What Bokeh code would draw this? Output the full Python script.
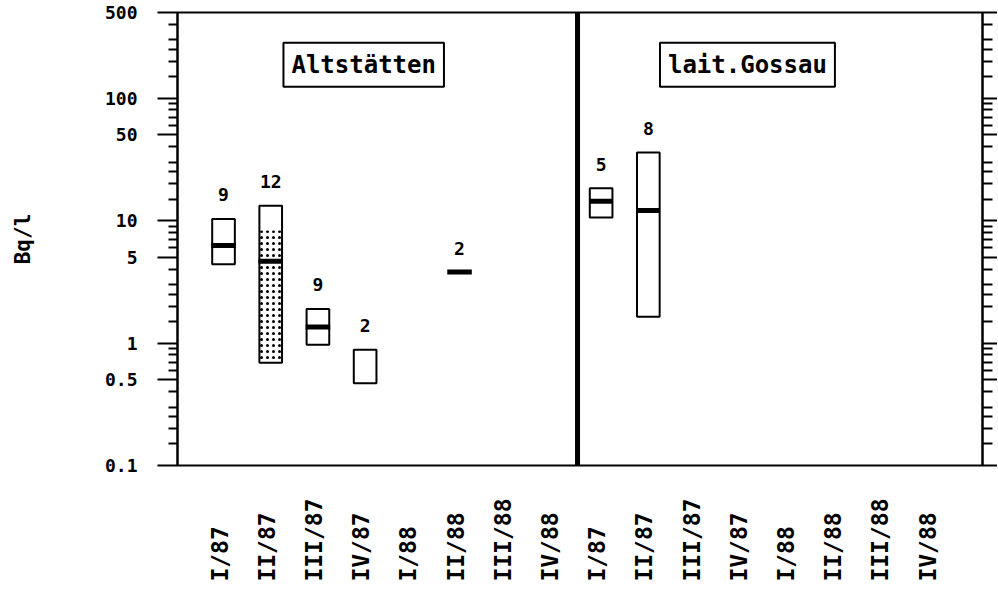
import numpy as np
from bokeh.plotting import figure
from bokeh.core.properties import value
from bokeh.models import (Range1d, FixedTicker, LogAxis, ColumnDataSource,
                          LabelSet, Label, Span)
from bokeh.embed import file_html
from bokeh.resources import INLINE

# ---------------- data ----------------
quarters = ["I/87", "II/87", "III/87", "IV/87", "I/88", "II/88", "III/88", "IV/88"]
panel_titles = ["Altstätten", "lait.Gossau"]

y_ticks = [0.1, 0.5, 1, 5, 10, 50, 100, 500]
y_tick_labels = ["0.1", "0.5", "1", "5", "10", "50", "100", "500"]
minor_mult = [1.5, 2, 2.5, 3, 4, 6, 7, 8, 9]
decades = [0.1, 1, 10, 100]

# Altstätten
alt_quarter = ["I/87", "II/87", "III/87", "IV/87"]
alt_low = [4.4, 0.69, 0.97, 0.47]
alt_high = [10.3, 13.2, 1.9, 0.88]
alt_med_quarter = ["I/87", "II/87", "III/87", "II/88"]
alt_median = [6.25, 4.65, 1.35, 3.8]
alt_n_quarter = ["I/87", "II/87", "III/87", "IV/87", "II/88"]
alt_n_pos = [10.3, 13.2, 1.9, 0.88, 3.8]
alt_n = [9, 12, 9, 2, 2]
alt_shade_quarter = ["II/87"]
alt_shade_low = [0.69]
alt_shade_high = [8.3]

# lait.Gossau
gos_quarter = ["I/87", "II/87"]
gos_low = [10.6, 1.64]
gos_high = [18.4, 36.0]
gos_median = [14.4, 12.1]
gos_n = [5, 8]

FONT = "DejaVu Sans Mono"

def xpos(q, panel):
    return quarters.index(q) + 8 * panel

y_minor = [m * d for d in decades for m in minor_mult if m * d < 500]

p = figure(width=994, height=586, frame_width=805, frame_height=453,
           x_range=Range1d(-0.975, 16.08), y_range=Range1d(0.1, 500),
           y_axis_type="log", x_axis_location="below",
           output_backend="svg", toolbar_location=None,
           min_border_left=177, min_border_top=12, min_border_right=0,
           min_border_bottom=121)
p.grid.visible = False
p.outline_line_color = "black"
p.outline_line_width = 2
p.background_fill_color = "white"
p.border_fill_color = "white"

ax = p.yaxis[0]
ax.ticker = FixedTicker(ticks=y_ticks, minor_ticks=y_minor)
ax.major_label_overrides = dict(zip(y_ticks, y_tick_labels))
ax.major_tick_out = 20
ax.major_tick_in = 0
ax.minor_tick_out = 9
ax.minor_tick_in = 0
ax.major_tick_line_width = 2
ax.minor_tick_line_width = 2
ax.axis_line_width = 2
ax.major_label_standoff = 20
ax.major_label_text_font = FONT
ax.major_label_text_font_style = "bold"
ax.major_label_text_font_size = "18px"
ax.major_label_text_color = "black"
ax.axis_label = "Bq/l"
ax.axis_label_text_font = FONT
ax.axis_label_text_font_style = "bold"
ax.axis_label_text_font_size = "21px"
ax.axis_label_text_color = "black"
ax.axis_label_standoff = 67

rax = LogAxis(ticker=FixedTicker(ticks=y_ticks, minor_ticks=y_minor))
rax.major_label_overrides = {t: "" for t in y_ticks}
rax.major_label_standoff = 0
rax.major_tick_out = 15
rax.major_tick_in = 0
rax.minor_tick_out = 10
rax.minor_tick_in = 0
rax.major_tick_line_width = 2
rax.minor_tick_line_width = 2
rax.axis_line_width = 2
p.add_layout(rax, "right")

# quarter labels on the bottom axis (padded so that all start at the same line)
qlabels = quarters + quarters
width_max = max(len(s) for s in qlabels)
qticks = [i - 0.085 for i in range(len(qlabels))]
xax = p.xaxis[0]
xax.ticker = FixedTicker(ticks=qticks, minor_ticks=[])
xax.major_label_overrides = {t: s + "\u00a0" * (width_max - len(s)) for t, s in zip(qticks, qlabels)}
xax.major_label_orientation = np.pi / 2
xax.axis_line_color = None
xax.major_tick_line_color = None
xax.minor_tick_line_color = None
xax.major_tick_out = 0
xax.major_tick_in = 0
xax.major_label_standoff = 33
xax.major_label_text_font = FONT
xax.major_label_text_font_style = "bold"
xax.major_label_text_font_size = "23px"
xax.major_label_text_color = "black"

# divider between panels
p.add_layout(Span(location=7.5, dimension="height", line_color="black", line_width=5))

half = 0.24

# Altstätten boxes
ax_x = np.array([xpos(q, 0) for q in alt_quarter], dtype=float)
sx = np.array([xpos(q, 0) for q in alt_shade_quarter], dtype=float)
p.quad(left=sx - half, right=sx + half, bottom=alt_shade_low, top=alt_shade_high,
       fill_color="white", line_color=None, hatch_pattern="dot",
       hatch_color="black", hatch_scale=6, hatch_weight=1.6)
p.quad(left=ax_x - half, right=ax_x + half, bottom=alt_low, top=alt_high,
       fill_color=None, line_color="black", line_width=2)
mx = np.array([xpos(q, 0) for q in alt_med_quarter], dtype=float)
p.segment(x0=mx - half - 0.02, x1=mx + half + 0.02, y0=alt_median, y1=alt_median,
          line_color="black", line_width=5, line_cap="butt")

# Gossau boxes
gx = np.array([xpos(q, 1) for q in gos_quarter], dtype=float)
p.quad(left=gx - half, right=gx + half, bottom=gos_low, top=gos_high,
       fill_color=None, line_color="black", line_width=2)
p.segment(x0=gx - half, x1=gx + half, y0=gos_median, y1=gos_median,
          line_color="black", line_width=5, line_cap="butt")

# n labels
nx = [xpos(q, 0) for q in alt_n_quarter] + [xpos(q, 1) for q in gos_quarter]
ny = alt_n_pos + gos_high
nt = [str(v) for v in alt_n + gos_n]
n_src = ColumnDataSource(dict(x=nx, y=ny, t=nt))
p.add_layout(LabelSet(x="x", y="y", text="t", source=n_src, y_offset=24,
                      text_align="center", text_baseline="middle",
                      text_font=value(FONT), text_font_style="bold",
                      text_font_size="18px", text_color="black"))

# panel titles
for cx, title in zip([2.97, 11.1], panel_titles):
    p.add_layout(Label(x=cx, y=187, text=title, text_align="center",
                       text_baseline="middle", text_font=FONT,
                       text_font_style="bold", text_font_size="24px",
                       text_color="black", border_line_color="black",
                       border_line_width=2, background_fill_color="white",
                       padding=8))

open("out.html", "w").write(file_html(p, INLINE))
